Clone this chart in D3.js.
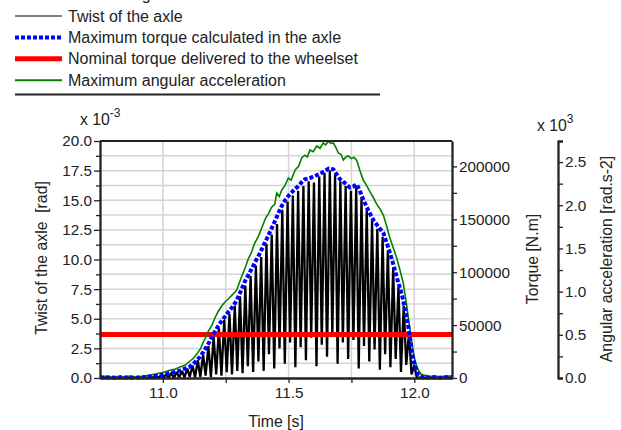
<!DOCTYPE html>
<html>
<head>
<meta charset="utf-8">
<script src="https://cdn.jsdelivr.net/npm/d3@7/dist/d3.min.js"></script>
<style>
  html, body { margin: 0; padding: 0; background: #fff; }
  svg { display: block; font-family: "Liberation Sans", Arial, sans-serif; }
  .axis text { font-size: 15.3px; fill: #222; }
  .axis path, .axis line { stroke: #222; }
</style>
</head>
<body>
<svg id="chart" width="621" height="430"></svg>
<script>
// ---- Data ----------------------------------------------------------------
// Twist of the axle, in 10^-3 rad
const twistTime = [10.750, 10.800, 10.850, 10.900, 10.950,
  10.960, 10.971, 10.981, 10.992, 11.002, 11.013, 11.023, 11.034, 11.044, 11.055,
  11.065, 11.076, 11.086, 11.097, 11.107, 11.118, 11.128, 11.139, 11.149, 11.160,
  11.170, 11.181, 11.191, 11.202, 11.212, 11.223, 11.233, 11.244, 11.254, 11.265,
  11.275, 11.286, 11.296, 11.307, 11.317, 11.328, 11.338, 11.349, 11.359, 11.370,
  11.380, 11.391, 11.401, 11.412, 11.422, 11.433, 11.443, 11.454, 11.464, 11.475,
  11.485, 11.496, 11.506, 11.517, 11.527, 11.538, 11.548, 11.559, 11.569, 11.580,
  11.590, 11.601, 11.611, 11.622, 11.632, 11.643, 11.653, 11.664, 11.674, 11.685,
  11.695, 11.706, 11.716, 11.727, 11.737, 11.748, 11.758, 11.769, 11.779, 11.790,
  11.800, 11.811, 11.821, 11.832, 11.842, 11.853, 11.863, 11.874, 11.884, 11.895,
  11.905, 11.916, 11.926, 11.937, 11.947, 11.958, 11.968, 11.979, 11.989, 12.000,
  12.010, 12.050, 12.100, 12.150];
const twistValue = [0.03, 0.02, 0.04, 0.02, 0.03,
  0.05, 0.15, 0.02, 0.2, 0.03, 0.3, 0.05, 0.4, 0.02, 0.5,
  0.05, 0.6, 0.05, 0.8, 0.1, 1.05, 0.05, 1.5, 0.1, 2.0,
  0.2, 2.7, 0.1, 3.5, 0.3, 4.2, 0.2, 4.9, 0.5, 5.4,
  0.3, 6.1, 0.6, 6.9, 0.4, 7.8, 1.0, 8.6, 0.5, 9.5,
  1.4, 10.2, 0.6, 11.3, 2.0, 12.1, 0.8, 13.0, 2.5, 14.2,
  1.2, 14.9, 3.0, 15.4, 0.9, 15.8, 2.6, 16.2, 1.5, 16.6,
  3.4, 16.5, 1.0, 17.0, 2.8, 17.3, 1.8, 17.5, 3.6, 17.2,
  1.2, 16.6, 3.0, 16.2, 1.6, 15.8, 3.2, 16.1, 0.8, 15.2,
  2.7, 14.2, 1.4, 13.3, 2.4, 12.6, 0.7, 11.9, 2.0, 10.8,
  0.9, 9.3, 1.6, 7.7, 0.5, 6.1, 1.1, 3.8, 0.3, 1.1,
  0.05, 0.03, 0.02, 0.03];

// Maximum torque calculated in the axle, N.m
const torqueTime = [10.750, 10.770, 10.790, 10.810, 10.830, 10.850, 10.870, 10.890, 10.910, 10.930,
  10.950, 10.970, 10.990, 11.010, 11.030, 11.050, 11.068, 11.090, 11.108, 11.128,
  11.148, 11.162, 11.174, 11.185, 11.194, 11.210, 11.227, 11.247, 11.267, 11.280,
  11.294, 11.310, 11.327, 11.346, 11.366, 11.386, 11.406, 11.426, 11.446, 11.460,
  11.473, 11.486, 11.499, 11.519, 11.539, 11.552, 11.565, 11.585, 11.605, 11.625,
  11.645, 11.660, 11.678, 11.690, 11.705, 11.725, 11.744, 11.758, 11.771, 11.785,
  11.798, 11.818, 11.837, 11.857, 11.877, 11.890, 11.904, 11.917, 11.930, 11.943,
  11.956, 11.966, 11.976, 11.983, 11.990, 11.996, 12.003, 12.013, 12.023, 12.040,
  12.062, 12.080, 12.100, 12.120, 12.150];
const torqueValue = [600, 300, 700, 200, 800, 400, 500, 300, 700, 900,
  1500, 2000, 2500, 3500, 4700, 5800, 7000, 9000, 10700, 15000,
  20000, 25000, 29600, 34000, 39000, 45000, 51700, 58000, 64300, 68000,
  73700, 82000, 91700, 100000, 109000, 118000, 127900, 138000, 148400, 156000,
  162600, 168000, 172000, 177000, 181500, 185000, 187800, 189000, 190900, 193000,
  195700, 198000, 197300, 193000, 187800, 184000, 180000, 181000, 183100, 176000,
  168000, 158000, 149300, 143000, 137000, 128000, 117600, 107000, 95500, 85000,
  73700, 61000, 48800, 38000, 26500, 18000, 10700, 4000, 1200, 500,
  200, 600, 300, 700, 500];

// Nominal torque delivered to the wheelset, N.m
const nominalTorque = 41000;

// Maximum angular acceleration, rad.s-2
const accelTime = [10.750, 10.770, 10.790, 10.810, 10.830, 10.850, 10.870, 10.890, 10.910, 10.930,
  10.950, 10.970, 10.990, 11.010, 11.030, 11.050, 11.068, 11.090, 11.108, 11.122,
  11.135, 11.150, 11.161, 11.172, 11.181, 11.195, 11.207, 11.220, 11.234, 11.247,
  11.260, 11.275, 11.294, 11.310, 11.327, 11.340, 11.353, 11.365, 11.380, 11.393,
  11.410, 11.420, 11.433, 11.445, 11.453, 11.463, 11.473, 11.486, 11.499, 11.510,
  11.526, 11.540, 11.552, 11.565, 11.575, 11.585, 11.598, 11.612, 11.625, 11.638,
  11.648, 11.658, 11.668, 11.678, 11.688, 11.698, 11.708, 11.718, 11.728, 11.738,
  11.750, 11.760, 11.771, 11.784, 11.797, 11.810, 11.824, 11.837, 11.850, 11.863,
  11.877, 11.890, 11.903, 11.916, 11.930, 11.943, 11.956, 11.970, 11.983, 11.996,
  12.006, 12.016, 12.026, 12.036, 12.050, 12.062, 12.080, 12.100, 12.120, 12.150];
const accelValue = [12, 20, 8, 18, 6, 15, 23, 10, 14, 25,
  35, 45, 58, 72, 93, 105, 127, 150, 197, 230,
  278, 340, 417, 480, 544, 610, 695, 770, 834, 880,
  915, 960, 1019, 1150, 1274, 1380, 1459, 1560, 1640, 1737,
  1860, 1900, 1980, 2010, 2142, 2100, 2177, 2230, 2316, 2290,
  2408, 2450, 2547, 2580, 2560, 2640, 2620, 2686, 2660, 2721,
  2700, 2740, 2715, 2721, 2670, 2605, 2590, 2524, 2560, 2570,
  2540, 2555, 2520, 2400, 2292, 2230, 2154, 2090, 2015, 1960,
  1887, 1760, 1621, 1510, 1389, 1250, 1100, 834, 556, 289,
  170, 93, 50, 35, 28, 17, 25, 12, 20, 23];

// Axis ticks
const timeTicks = [11.0, 11.5, 12.0];
const timeMinorTicks = [11.25, 11.75];
const twistTicks = [0, 2.5, 5, 7.5, 10, 12.5, 15, 17.5, 20];
const twistMinorTicks = [1.25, 3.75, 6.25, 8.75, 11.25, 13.75, 16.25, 18.75];
const torqueTicks = [0, 50000, 100000, 150000, 200000];
const torqueMinorTicks = [25000, 75000, 125000, 175000];
const accelTicks = [0, 500, 1000, 1500, 2000, 2500];
const accelMinorTicks = [250, 750, 1250, 1750, 2250];

const legendItems = [
  { label: "Twist of the axle", color: "#000", width: 1, dash: null },
  { label: "Maximum torque calculated in the axle", color: "#0000ff", width: 4, dash: "4,2" },
  { label: "Nominal torque delivered to the wheelset", color: "#ff0000", width: 5, dash: null },
  { label: "Maximum angular acceleration", color: "#008000", width: 2, dash: null }
];

// ---- Layout --------------------------------------------------------------
const svg = d3.select("#chart");
const plot = { left: 100, right: 452, top: 141, bottom: 378 };
const accelAxisX = 558;

const x = d3.scaleLinear().domain([10.75, 12.15]).range([plot.left, plot.right]);
const yTwist = d3.scaleLinear().domain([0, 20]).range([plot.bottom, plot.top]);
const yTorque = d3.scaleLinear().domain([0, 224000]).range([plot.bottom, plot.top]);
const yAccel = d3.scaleLinear().domain([0, 2744]).range([plot.bottom, plot.top]);

// ---- Legend --------------------------------------------------------------
svg.append("text")
  .attr("x", 124).attr("y", 0)
  .attr("font-size", 16).attr("fill", "#222")
  .text("Legend");

const legend = svg.append("g");
legendItems.forEach((d, i) => {
  const ly = 16 + i * 21.4;
  legend.append("line")
    .attr("x1", 15).attr("x2", 62).attr("y1", ly).attr("y2", ly)
    .attr("stroke", d.color).attr("stroke-width", d.width)
    .attr("stroke-dasharray", d.dash);
  legend.append("text")
    .attr("x", 68).attr("y", ly).attr("dy", "0.35em")
    .attr("font-size", 16).attr("fill", "#222")
    .text(d.label);
});
svg.append("line")
  .attr("x1", 15).attr("x2", 380).attr("y1", 94.5).attr("y2", 94.5)
  .attr("stroke", "#222").attr("stroke-width", 2);

// ---- Grid ----------------------------------------------------------------
const grid = svg.append("g").attr("stroke", "#d4d4d4").attr("stroke-width", 1.5);
twistTicks.concat(twistMinorTicks).filter(v => v > 0 && v < 20).forEach(v => {
  grid.append("line")
    .attr("x1", plot.left).attr("x2", plot.right)
    .attr("y1", yTwist(v)).attr("y2", yTwist(v));
});
timeTicks.concat(timeMinorTicks).forEach(v => {
  grid.append("line")
    .attr("x1", x(v)).attr("x2", x(v))
    .attr("y1", plot.top).attr("y2", plot.bottom);
});

// ---- Series --------------------------------------------------------------
svg.append("clipPath").attr("id", "plot-clip")
  .append("rect")
  .attr("x", plot.left).attr("y", plot.top - 3)
  .attr("width", plot.right - plot.left).attr("height", plot.bottom - plot.top + 6);

const series = svg.append("g").attr("clip-path", "url(#plot-clip)");

const twistLine = d3.line().x(i => x(twistTime[i])).y(i => yTwist(twistValue[i]));
series.append("path")
  .attr("d", twistLine(d3.range(twistTime.length)))
  .attr("fill", "none").attr("stroke", "#000").attr("stroke-width", 2.3)
  .attr("stroke-linejoin", "miter").attr("stroke-miterlimit", 2);

series.append("line")
  .attr("x1", plot.left).attr("x2", plot.right)
  .attr("y1", yTorque(nominalTorque)).attr("y2", yTorque(nominalTorque))
  .attr("stroke", "#ff0000").attr("stroke-width", 5);

const accelLine = d3.line().x(i => x(accelTime[i])).y(i => yAccel(accelValue[i]));
series.append("path")
  .attr("d", accelLine(d3.range(accelTime.length)))
  .attr("fill", "none").attr("stroke", "#008000").attr("stroke-width", 1.6);

const torqueLine = d3.line().x(i => x(torqueTime[i])).y(i => yTorque(torqueValue[i]));
series.append("path")
  .attr("d", torqueLine(d3.range(torqueTime.length)))
  .attr("fill", "none").attr("stroke", "#0000ff").attr("stroke-width", 4)
  .attr("stroke-dasharray", "4,2");

// ---- Frame and axes ------------------------------------------------------
svg.append("line")
  .attr("x1", plot.left).attr("x2", plot.right).attr("y1", plot.top).attr("y2", plot.top)
  .attr("stroke", "#222").attr("stroke-width", 2);

const fmt1 = d3.format(".1f");

function styleAxis(g) {
  g.attr("class", "axis");
  g.selectAll("path").attr("stroke-width", 1.8);
  g.selectAll("line").attr("stroke-width", 1.3);
}

// Left: twist
svg.append("g").attr("transform", `translate(${plot.left},0)`)
  .call(d3.axisLeft(yTwist).tickValues(twistMinorTicks).tickSize(4).tickSizeOuter(0).tickFormat(""))
  .call(styleAxis);
svg.append("g").attr("transform", `translate(${plot.left},0)`)
  .call(d3.axisLeft(yTwist).tickValues(twistTicks).tickSize(6).tickSizeOuter(0).tickPadding(2).tickFormat(fmt1))
  .call(styleAxis);

// Bottom: time
svg.append("g").attr("transform", `translate(0,${plot.bottom})`)
  .call(d3.axisBottom(x).tickValues(timeMinorTicks).tickSize(5).tickSizeOuter(0).tickFormat(""))
  .call(styleAxis);
svg.append("g").attr("transform", `translate(0,${plot.bottom})`)
  .call(d3.axisBottom(x).tickValues(timeTicks).tickSize(5).tickSizeOuter(0).tickPadding(4).tickFormat(fmt1))
  .call(styleAxis);

// Right: torque
svg.append("g").attr("transform", `translate(${plot.right},0)`)
  .call(d3.axisRight(yTorque).tickValues(torqueMinorTicks).tickSize(5).tickSizeOuter(0).tickFormat(""))
  .call(styleAxis);
svg.append("g").attr("transform", `translate(${plot.right},0)`)
  .call(d3.axisRight(yTorque).tickValues(torqueTicks).tickSize(5).tickSizeOuter(0).tickPadding(2).tickFormat(d3.format("d")))
  .call(styleAxis);

// Far right: angular acceleration
svg.append("g").attr("transform", `translate(${accelAxisX},0)`)
  .call(d3.axisRight(yAccel).tickValues(accelMinorTicks).tickSize(5).tickSizeOuter(5).tickFormat(""))
  .call(styleAxis);
svg.append("g").attr("transform", `translate(${accelAxisX},0)`)
  .call(d3.axisRight(yAccel).tickValues(accelTicks).tickSize(5).tickSizeOuter(5).tickPadding(2).tickFormat(d => fmt1(d / 1000)))
  .call(styleAxis);

// ---- Titles and multipliers ---------------------------------------------
const titles = svg.append("g").attr("font-size", 15.8).attr("fill", "#222");
titles.append("text")
  .attr("transform", "translate(47,258) rotate(-90)")
  .attr("text-anchor", "middle")
  .attr("xml:space", "preserve")
  .text("Twist of the axle  [rad]");
titles.append("text")
  .attr("transform", "translate(538,259) rotate(-90)")
  .attr("text-anchor", "middle")
  .text("Torque [N.m]");
titles.append("text")
  .attr("transform", "translate(612,259) rotate(-90)")
  .attr("text-anchor", "middle")
  .text("Angular acceleration [rad.s-2]");
titles.append("text")
  .attr("x", (plot.left + plot.right) / 2).attr("y", 427)
  .attr("text-anchor", "middle")
  .text("Time [s]");

const m1 = titles.append("text").attr("x", 80).attr("y", 125);
m1.append("tspan").text("x 10");
m1.append("tspan").attr("dy", -8).attr("font-size", 12).text("-3");

const m2 = titles.append("text").attr("x", 537).attr("y", 131);
m2.append("tspan").text("x 10");
m2.append("tspan").attr("dy", -8).attr("font-size", 12).text("3");
</script>
</body>
</html>
